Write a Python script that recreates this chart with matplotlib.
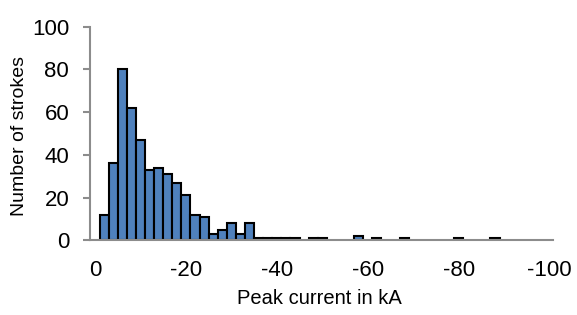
import numpy as np
import matplotlib.pyplot as plt

plt.rcParams['font.family'] = ['Liberation Sans', 'DejaVu Sans']

# bin centres (kA, magnitude of negative peak current) and stroke counts
bin_centres = [2, 4, 6, 8, 10, 12, 14, 16, 18, 20, 22, 24, 26, 28, 30, 32, 34,
               36, 38, 40, 42, 44, 48, 50, 58, 62, 68, 80, 88]
stroke_counts = [12, 36, 80, 62, 47, 33, 34, 31, 27, 21, 12, 11, 3, 5, 8, 3, 8,
                 1, 1, 1, 1, 1, 1, 1, 2, 1, 1, 1, 1]
bin_width = 2

x_ticks = [0, 20, 40, 60, 80, 100]
x_tick_labels = ['0', '-20', '-40', '-60', '-80', '-100']
y_ticks = [0, 20, 40, 60, 80, 100]

fig = plt.figure(figsize=(5.77, 3.15), dpi=100)
ax = fig.add_axes([0.156, 0.237, 0.802, 0.678])

ax.bar(bin_centres, stroke_counts, width=bin_width, color='#4F81BD',
       edgecolor='black', linewidth=1.5)

ax.set_xlim(-1.1, 100.7)
ax.set_ylim(0, 100)
ax.set_xticks(x_ticks)
ax.set_xticklabels(x_tick_labels)
ax.set_yticks(y_ticks)

for side in ['top', 'right']:
    ax.spines[side].set_visible(False)
for side in ['left', 'bottom']:
    ax.spines[side].set_color('#8C8C8C')
    ax.spines[side].set_linewidth(1.5)

ax.tick_params(axis='x', length=0, pad=14, labelsize=16)
ax.tick_params(axis='y', length=5, width=1.5, color='#8C8C8C', pad=10, labelsize=16)

ax.set_xlabel('Peak current in kA', fontsize=14.5)
ax.set_ylabel('Number of strokes', fontsize=14)
ax.xaxis.set_label_coords(0.496, -0.228)
ax.yaxis.set_label_coords(-0.134, 0.49)

plt.savefig('out.png', dpi=100)
